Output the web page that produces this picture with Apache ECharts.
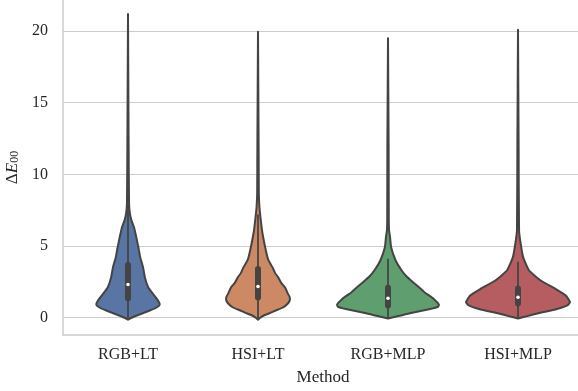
<!DOCTYPE html>
<html>
<head>
<meta charset="utf-8">
<script src="https://cdn.jsdelivr.net/npm/echarts@6/dist/echarts.min.js"></script>
<style>html,body{margin:0;padding:0;background:#fff}#c{width:578px;height:391px}</style>
</head>
<body>
<div id="c"></div>
<script>
const categories = ['RGB+LT', 'HSI+LT', 'RGB+MLP', 'HSI+MLP'];
const yTicks = [0, 5, 10, 15, 20];

// violin outline: value levels (top to bottom) and relative density at each level
const rgbLtLevels  = [21.2, 12, 8.0, 7.3, 6.8, 6.3, 5.6, 4.9, 4.2, 3.5, 2.8, 2.1, 1.7, 1.2, 0.9, 0.7, 0.49, 0.14, -0.05, -0.15];
const rgbLtDensity = [0, 0.012, 0.02, 0.035, 0.065, 0.115, 0.16, 0.2, 0.235, 0.29, 0.325, 0.39, 0.47, 0.575, 0.61, 0.55, 0.42, 0.17, 0.05, 0];

const hsiLtLevels  = [19.95, 12, 8.7, 7.7, 6.6, 5.9, 4.7, 4.0, 3.5, 3.1, 2.8, 2.4, 2.1, 1.7, 1.42, 1.2, 0.96, 0.7, 0.49, 0.3, 0.14, 0.0, -0.15];
const hsiLtDensity = [0, 0.012, 0.016, 0.028, 0.06, 0.085, 0.15, 0.2, 0.28, 0.33, 0.39, 0.45, 0.52, 0.57, 0.61, 0.61, 0.57, 0.48, 0.34, 0.22, 0.11, 0.05, 0];

const rgbMlpLevels  = [19.5, 12, 7.0, 6.1, 5.6, 4.9, 4.0, 3.3, 2.9, 2.5, 2.1, 1.77, 1.3, 0.9, 0.75, 0.6, 0.28, 0.1, -0.07];
const rgbMlpDensity = [0, 0.012, 0.015, 0.02, 0.04, 0.06, 0.145, 0.26, 0.35, 0.47, 0.6, 0.7, 0.88, 0.98, 0.96, 0.81, 0.4, 0.2, 0];

const hsiMlpLevels  = [20.1, 12, 6.1, 5.2, 4.2, 3.3, 2.6, 2.0, 1.54, 1.07, 0.85, 0.6, 0.28, 0.1, -0.07];
const hsiMlpDensity = [0, 0.012, 0.02, 0.05, 0.1, 0.21, 0.43, 0.72, 0.92, 1.0, 0.95, 0.75, 0.37, 0.18, 0];

// inner box statistics
const q1Values      = [1.13, 1.19, 0.63, 0.77];
const medianValues  = [2.31, 2.17, 1.35, 1.42];
const q3Values      = [3.87, 3.6, 2.28, 2.24];
const whiskerLow    = [-0.1, -0.1, -0.05, -0.05];
const whiskerHigh   = [7.9, 7.2, 4.1, 3.9];

const violinColors = ['#5975a4', '#cc8963', '#5f9e6e', '#b55d60'];
const levelSets = [rgbLtLevels, hsiLtLevels, rgbMlpLevels, hsiMlpLevels];
const densitySets = [rgbLtDensity, hsiLtDensity, rgbMlpDensity, hsiMlpDensity];

const lineColor = '#444444';
const font = "'Liberation Serif', 'Times New Roman', serif";

function renderViolin(params, api) {
  const i = params.dataIndex;
  const levels = levelSets[i], dens = densitySets[i];
  const center = api.coord([i, 0])[0];
  const band = api.size([1, 0])[0];
  const half = band * 0.4;
  const right = [], left = [];
  for (let k = 0; k < levels.length; k++) {
    const y = api.coord([i, levels[k]])[1];
    right.push([center + dens[k] * half, y]);
    left.push([center - dens[k] * half, y]);
  }
  const pts = right.concat(left.reverse());
  const yq1 = api.coord([i, q1Values[i]])[1];
  const yq3 = api.coord([i, q3Values[i]])[1];
  const ymed = api.coord([i, medianValues[i]])[1];
  const ywl = api.coord([i, whiskerLow[i]])[1];
  const ywh = api.coord([i, whiskerHigh[i]])[1];
  return {
    type: 'group',
    children: [
      { type: 'polygon', shape: { points: pts, smooth: 0.15 },
        style: { fill: violinColors[i], stroke: lineColor, lineWidth: 2, lineJoin: 'round' } },
      { type: 'line', shape: { x1: center, y1: ywl, x2: center, y2: ywh },
        style: { stroke: lineColor, lineWidth: 1.8 } },
      { type: 'rect', shape: { x: center - 3, y: yq3, width: 6, height: yq1 - yq3, r: 3 },
        style: { fill: lineColor } },
      { type: 'circle', shape: { cx: center, cy: ymed, r: 1.8 },
        style: { fill: '#ffffff' } }
    ]
  };
}

const chart = echarts.init(document.getElementById('c'), null, { renderer: 'canvas' });
chart.setOption({
  animation: false,
  backgroundColor: '#ffffff',
  grid: { left: 63, right: -5, top: 0, bottom: 56, containLabel: false, outerBoundsMode: 'none' },
  xAxis: {
    type: 'category',
    data: categories,
    boundaryGap: true,
    name: 'Method',
    nameLocation: 'middle',
    nameGap: 34,
    nameTextStyle: { fontFamily: font, fontSize: 17, color: '#262626' },
    axisLine: { show: true, onZero: false, lineStyle: { color: '#cccccc', width: 1.5 } },
    axisTick: { show: false },
    axisLabel: { fontFamily: font, fontSize: 16, color: '#262626', margin: 12 },
    splitLine: { show: false }
  },
  yAxis: {
    type: 'value',
    min: -1.22,
    max: 22.17,
    name: '{d|Δ}{e|E}{s|00}',
    nameLocation: 'middle',
    nameRotate: 90,
    nameGap: 36,
    nameTextStyle: {
      fontFamily: font, fontSize: 17, color: '#262626',
      rich: {
        d: { fontFamily: font, fontSize: 17, color: '#262626' },
        e: { fontFamily: font, fontSize: 17, fontStyle: 'italic', color: '#262626' },
        s: { fontFamily: font, fontSize: 12, color: '#262626', verticalAlign: 'bottom', padding: [6, 0, 0, 0] }
      }
    },
    axisLine: { show: true, lineStyle: { color: '#cccccc', width: 1.5 } },
    axisTick: { show: false, customValues: yTicks },
    axisLabel: { fontFamily: font, fontSize: 16, color: '#262626', margin: 15, customValues: yTicks },
    splitLine: { show: true, lineStyle: { color: '#cccccc', width: 1 } }
  },
  series: [{
    type: 'custom',
    renderItem: renderViolin,
    data: categories.map((c, i) => [i, medianValues[i]]),
    encode: { x: 0, y: 1 },
    clip: false,
    z: 3
  }]
});
</script>
</body>
</html>
